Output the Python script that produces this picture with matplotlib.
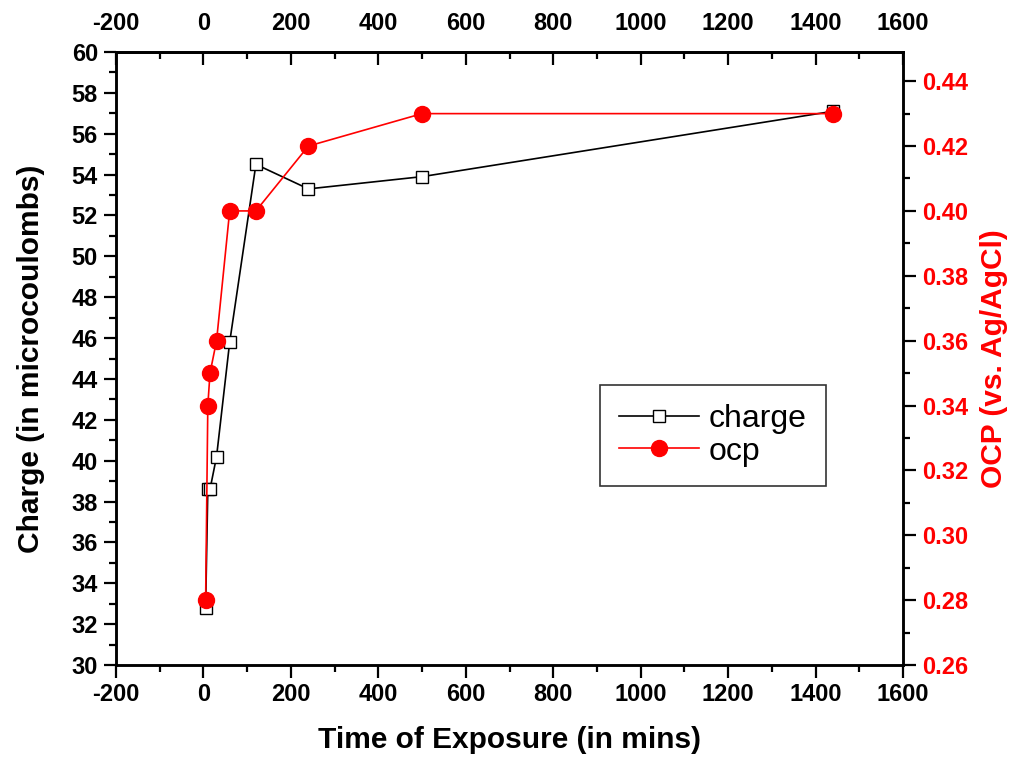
import numpy as np
import matplotlib.pyplot as plt
from matplotlib.ticker import MultipleLocator

plt.rcParams['font.family'] = ['Liberation Sans', 'DejaVu Sans']
plt.rcParams['axes.unicode_minus'] = False

# data
time_mins = [5, 10, 15, 30, 60, 120, 240, 500, 1440]
charge = [32.8, 38.6, 38.6, 40.2, 45.8, 54.5, 53.3, 53.9, 57.1]
ocp = [0.28, 0.34, 0.35, 0.36, 0.40, 0.40, 0.42, 0.43, 0.43]

fig = plt.figure(figsize=(10.16, 7.58), dpi=100)
ax = fig.add_axes([116 / 1016, 1 - 665 / 758, (903 - 116) / 1016, (665 - 52) / 758])
ax2 = ax.twinx()

l1, = ax.plot(time_mins, charge, color='black', linewidth=1.2, marker='s', markersize=9,
              markerfacecolor='white', markeredgecolor='black', markeredgewidth=1.0, label='charge')
l2, = ax2.plot(time_mins, ocp, color='red', linewidth=1.2, marker='o', markersize=11.5,
               markerfacecolor='red', markeredgecolor='red', label='ocp')

ax.set_xlim(-200, 1600)
ax.set_ylim(30, 60)
ax2.set_ylim(0.26, 0.449)

ax.xaxis.set_major_locator(MultipleLocator(200))
ax.xaxis.set_minor_locator(MultipleLocator(100))
ax.yaxis.set_major_locator(MultipleLocator(2))
ax.yaxis.set_minor_locator(MultipleLocator(1))
ax2.yaxis.set_major_locator(MultipleLocator(0.02))
ax2.yaxis.set_minor_locator(MultipleLocator(0.01))
ax2.yaxis.set_major_formatter(plt.FormatStrFormatter('%.2f'))

for a in (ax, ax2):
    for s in a.spines.values():
        s.set_linewidth(1.8)

ax.tick_params(axis='both', which='major', direction='out', length=9, width=1.6,
               labelsize=17, pad=4)
ax.tick_params(axis='both', which='minor', direction='out', length=5, width=1.6)
ax2.tick_params(axis='y', which='major', direction='out', length=9, width=1.6,
                labelsize=17, labelcolor='red', pad=5)
ax2.tick_params(axis='y', which='minor', direction='out', length=5, width=1.6)

for lab in ax.get_xticklabels() + ax.get_yticklabels() + ax2.get_yticklabels():
    lab.set_fontweight('bold')

# top axis mirrors the bottom one
top = ax.secondary_xaxis('top')
top.xaxis.set_major_locator(MultipleLocator(200))
top.xaxis.set_minor_locator(MultipleLocator(100))
top.tick_params(which='major', direction='in', length=9, width=1.6, labelsize=17, pad=12)
top.tick_params(which='minor', direction='in', length=5, width=1.6)
for lab in top.get_xticklabels():
    lab.set_fontweight('bold')
top.spines['top'].set_linewidth(1.8)

ax.set_xlabel('Time of Exposure (in mins)', fontsize=21.5, fontweight='bold', labelpad=14)
ax.set_ylabel('Charge (in microcoulombs)', fontsize=21.5, fontweight='bold', labelpad=19)
ax2.set_ylabel('OCP (vs. Ag/AgCl)', fontsize=21.5, fontweight='bold', color='red', labelpad=8)

leg = ax.legend(handles=[l1, l2], loc='upper left', bbox_to_anchor=(0.615, 0.457),
                borderaxespad=0, fontsize=23, frameon=True, fancybox=False, edgecolor='black',
                handlelength=2.5, handletextpad=0.3, borderpad=0.6, labelspacing=0.08)
leg.get_frame().set_linewidth(1.2)

fig.savefig('out.png', dpi=100)
